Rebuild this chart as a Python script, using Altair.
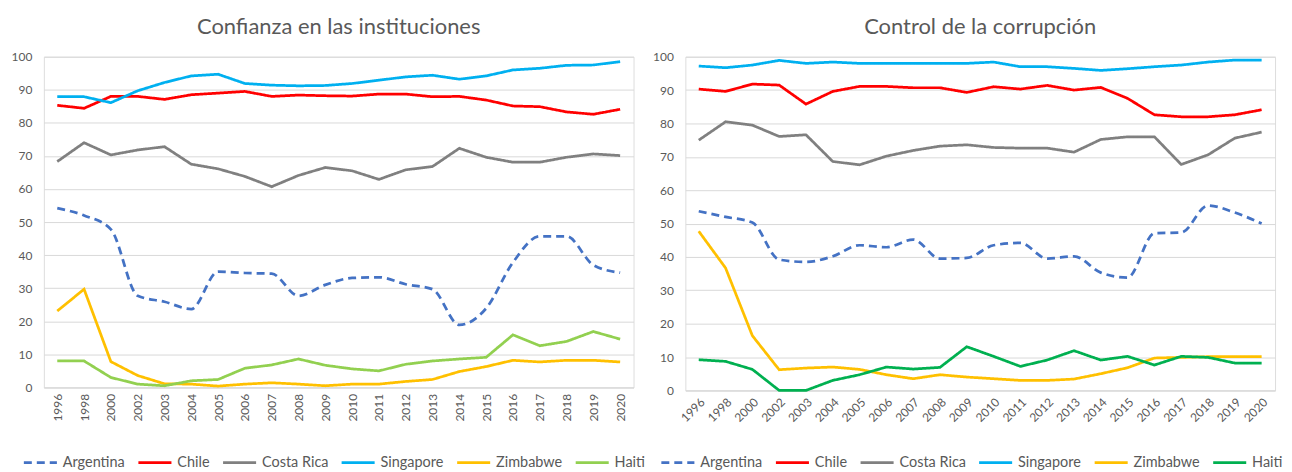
import altair as alt
import pandas as pd

years = ["1996", "1998", "2000", "2002", "2003", "2004", "2005", "2006", "2007",
         "2008", "2009", "2010", "2011", "2012", "2013", "2014", "2015", "2016",
         "2017", "2018", "2019", "2020"]
countries = ["Argentina", "Chile", "Costa Rica", "Singapore", "Zimbabwe", "Haiti"]

# Confianza en las instituciones
conf_argentina = [54.2, 52.0, 47.8, 27.7, 25.9, 23.7, 35.0, 34.6, 34.4, 27.7, 31.0,
                  33.1, 33.3, 31.2, 29.7, 18.9, 23.9, 37.8, 45.7, 45.7, 37.0, 34.7]
conf_chile = [85.3, 84.4, 88.0, 88.0, 87.1, 88.5, 89.0, 89.5, 88.0, 88.4, 88.2,
              88.1, 88.7, 88.7, 87.9, 88.0, 86.9, 85.1, 84.9, 83.3, 82.6, 84.1]
conf_costarica = [68.3, 74.0, 70.3, 71.8, 72.8, 67.5, 66.1, 63.8, 60.7, 64.1, 66.5,
                  65.5, 62.9, 65.8, 66.8, 72.3, 69.6, 68.1, 68.1, 69.6, 70.6, 70.1]
conf_singapore = [87.9, 87.9, 86.1, 89.7, 92.2, 94.2, 94.7, 91.9, 91.4, 91.2, 91.3,
                  91.9, 92.9, 93.9, 94.4, 93.2, 94.2, 96.0, 96.5, 97.4, 97.5, 98.5]
conf_zimbabwe = [23.1, 29.7, 7.8, 3.6, 1.1, 1.0, 0.4, 1.0, 1.4, 1.0, 0.5,
                 1.0, 1.0, 1.8, 2.4, 4.8, 6.3, 8.2, 7.7, 8.2, 8.2, 7.7]
conf_haiti = [8.0, 8.0, 3.0, 1.0, 0.5, 2.0, 2.4, 5.8, 6.8, 8.6, 6.7,
              5.6, 5.0, 7.0, 8.0, 8.6, 9.1, 15.9, 12.6, 13.9, 16.9, 14.6]

# Control de la corrupción
corr_argentina = [53.7, 52.0, 50.3, 39.2, 38.5, 40.2, 43.5, 42.9, 45.2, 39.5, 39.7,
                  43.5, 44.2, 39.5, 40.2, 35.3, 33.8, 47.1, 47.3, 55.4, 53.3, 50.0]
corr_chile = [90.3, 89.6, 91.8, 91.5, 85.8, 89.6, 91.1, 91.1, 90.7, 90.7, 89.3,
              91.0, 90.3, 91.4, 90.0, 90.8, 87.5, 82.6, 82.0, 82.0, 82.6, 84.1]
corr_costarica = [75.0, 80.5, 79.5, 76.1, 76.6, 68.6, 67.6, 70.2, 71.9, 73.2, 73.6,
                  72.8, 72.6, 72.6, 71.4, 75.2, 76.0, 76.0, 67.7, 70.6, 75.6, 77.4]
corr_singapore = [97.2, 96.7, 97.5, 98.9, 98.0, 98.4, 98.0, 98.0, 98.0, 98.0, 98.0,
                  98.4, 97.0, 97.0, 96.5, 95.9, 96.4, 97.0, 97.5, 98.4, 99.0, 99.0]
corr_zimbabwe = [47.7, 36.7, 16.4, 6.2, 6.7, 7.0, 6.3, 4.7, 3.5, 4.7, 4.0,
                 3.5, 3.0, 3.0, 3.4, 5.0, 6.8, 9.7, 9.9, 10.1, 10.1, 10.1]
corr_haiti = [9.2, 8.7, 6.3, 0.0, 0.0, 3.0, 4.7, 7.0, 6.4, 6.9, 13.1,
              10.2, 7.2, 9.1, 11.9, 9.1, 10.2, 7.6, 10.2, 9.9, 8.2, 8.2]

y_ticks = [0, 10, 20, 30, 40, 50, 60, 70, 80, 90, 100]

colors_left = ["#4472C4", "#FF0000", "#808080", "#00B0F0", "#FFC000", "#92D050"]
colors_right = ["#4472C4", "#FF0000", "#808080", "#00B0F0", "#FFC000", "#00B050"]
dashes = [[8, 5], [1, 0], [1, 0], [1, 0], [1, 0], [1, 0]]

FONT = "Lato"
TXT = "#595959"


def long_df(series):
    rows = []
    for c, vals in zip(countries, series):
        for y, v in zip(years, vals):
            rows.append({"anio": y, "pais": c, "valor": v})
    return pd.DataFrame(rows)


def panel(df, title, colors, label_angle, width, height, lx, ly):
    x = alt.X("anio:O", sort=years, title=None,
              axis=alt.Axis(labelAngle=label_angle, labelFontSize=12, labelColor=TXT,
                            labelFont=FONT, ticks=False, domain=True,
                            domainColor="#D9D9D9", labelPadding=6))
    y = alt.Y("valor:Q", title=None,
              scale=alt.Scale(domain=[0, 100], nice=False, zero=True),
              axis=alt.Axis(values=y_ticks, labelFontSize=12, labelColor=TXT,
                            labelFont=FONT, ticks=False, domain=False,
                            gridColor="#D9D9D9", gridWidth=1, labelPadding=12))
    color = alt.Color("pais:N", title=None,
                      scale=alt.Scale(domain=countries, range=colors),
                      legend=alt.Legend(orient="none", legendX=lx, legendY=ly,
                                        direction="horizontal", symbolType="stroke",
                                        symbolSize=1100, symbolStrokeWidth=3,
                                        labelFontSize=14.5, labelColor=TXT,
                                        labelFont=FONT, labelOffset=4,
                                        columnPadding=6))
    dash = alt.StrokeDash("pais:N", title=None,
                          scale=alt.Scale(domain=countries, range=dashes),
                          legend=alt.Legend(orient="none", legendX=lx, legendY=ly,
                                            direction="horizontal"))
    base = alt.Chart(df).encode(x=x, y=y, color=color, strokeDash=dash,
                                order=alt.Order("anio:O"))
    arg = base.transform_filter(alt.datum.pais == "Argentina").mark_line(
        strokeWidth=2.75, interpolate="monotone")
    rest = base.transform_filter(alt.datum.pais != "Argentina").mark_line(
        strokeWidth=2.75)
    return alt.layer(rest, arg).properties(
        width=width, height=height,
        title=alt.TitleParams(title, fontSize=22, color=TXT, font=FONT,
                              fontWeight="normal", anchor="middle", offset=12))


left = panel(long_df([conf_argentina, conf_chile, conf_costarica, conf_singapore,
                      conf_zimbabwe, conf_haiti]),
             "Confianza en las instituciones", colors_left, 270, 592, 332, -22, 389)
right = panel(long_df([corr_argentina, corr_chile, corr_costarica, corr_singapore,
                       corr_zimbabwe, corr_haiti]),
              "Control de la corrupción", colors_right, 315, 592, 335, -26, 389)

chart = alt.hconcat(left, right, spacing=52, bounds="flush").resolve_scale(
    color="independent", strokeDash="independent"
).resolve_legend(color="independent", strokeDash="independent").properties(
    padding={"left": 2, "top": 6, "right": 0, "bottom": 0}
).configure_view(stroke=None).configure(background="white")

chart.save("out.html", embed_options={"renderer": "svg", "actions": False})
